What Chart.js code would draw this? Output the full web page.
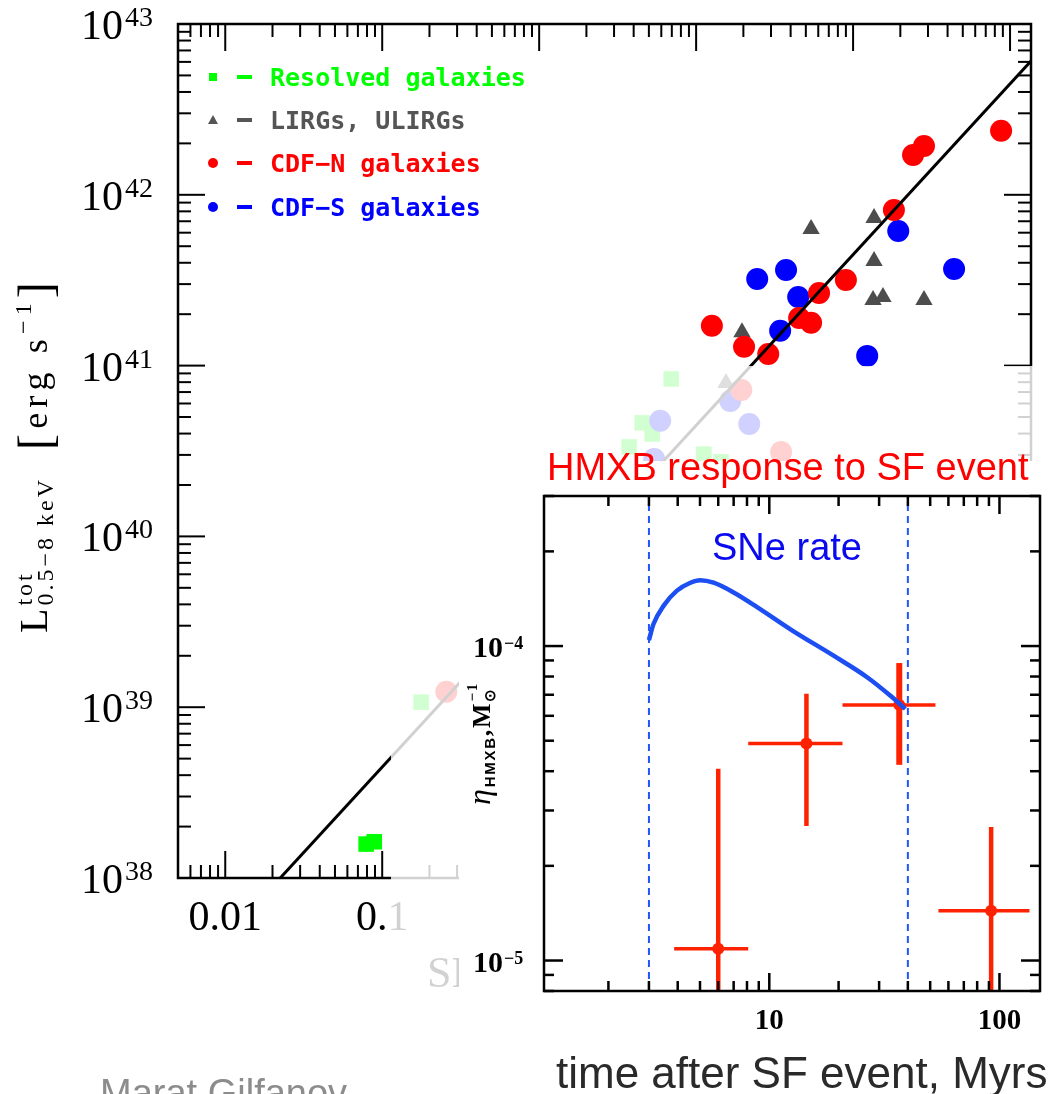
<!DOCTYPE html>
<html>
<head>
<meta charset="utf-8">
<title>HMXB - SFR</title>
<script src="https://cdn.jsdelivr.net/npm/chart.js@4.4.1/dist/chart.umd.min.js"></script>
<style>
  html, body { margin: 0; padding: 0; background: #fff; }
  #page { position: relative; width: 1050px; height: 1094px; overflow: hidden; background: #fff; }
  #mainChart { position: absolute; left: 0; top: 0; }
  #fade { position: absolute; left: 391px; top: 366px; width: 659px; height: 728px; background: rgba(255,255,255,0.82); }
  #panel { position: absolute; left: 459px; top: 461px; width: 591px; height: 633px; background: #fff; }
  #insetChart { position: absolute; left: 459px; top: 440px; }
</style>
</head>
<body>
<div id="page">
  <canvas id="mainChart" width="1050" height="1094"></canvas>
  <div id="fade"></div>
  <div id="panel"></div>
  <canvas id="insetChart" width="591" height="654"></canvas>
</div>
<script>
// main panel: total X-ray luminosity vs SFR
const resolvedSfr = [6.93, 4.53, 5.25, 3.74, 11.2, 14.4, 0.177, 0.079, 0.089];
const resolvedLx = [8.35e40, 4.62e40, 3.98e40, 3.34e40, 3.03e40, 2.73e40, 1.07e39, 1.58e38, 1.63e38];
const lirgSfr = [136, 54, 136, 134, 155, 283, 19.6, 15.5];
const lirgLx = [7.31e41, 6.3e41, 4.1e41, 2.42e41, 2.52e41, 2.42e41, 1.57e41, 7.9e40];
const cdfnSfr = [877, 241, 283, 182, 90, 60.7, 45.3, 54, 12.6, 20.2, 28.8, 19.4, 34.8, 0.256];
const cdfnLx = [2.37e42, 1.71e42, 1.93e42, 8.15e41, 3.17e41, 2.66e41, 1.90e41, 1.78e41, 1.71e41, 1.29e41, 1.17e41, 7.2e40, 3.12e40, 1.23e39];
const cdfsSfr = [194, 440, 37.4, 24.5, 44.7, 34.3, 123, 16.5, 5.9, 21.8, 5.4];
const cdfsLx = [6.14e41, 3.68e41, 3.63e41, 3.21e41, 2.52e41, 1.60e41, 1.14e41, 6.2e40, 4.75e40, 4.55e40, 2.84e40];
const fitSfr = [0.0224, 1360];
const fitLx = [1.0e38, 6.08e42];

const mainXTicks = [0.01, 0.1, 1, 10, 100, 1000];
const mainXTickLabels = ['0.01', '0.1', '1', '10', '100', '1000'];
const mainYTickExps = ['38', '39', '40', '41', '42', '43'];

// inset: HMXB response to SF event
const sneTime = [3.0, 3.14, 3.47, 3.97, 4.54, 5.01, 5.73, 7.0, 8.85, 12.6, 19.1, 26.6, 33.6, 39.0];
const sneRate = [1.045e-4, 1.175e-4, 1.342e-4, 1.50e-4, 1.59e-4, 1.62e-4, 1.59e-4, 1.48e-4, 1.33e-4, 1.12e-4, 9.3e-5, 7.96e-5, 6.95e-5, 6.31e-5];
const snWindow = [3, 40];
const hmxbTime = [6.0, 14.5, 36.7, 92];
const hmxbEta = [1.09e-5, 4.9e-5, 6.5e-5, 1.44e-5];
const hmxbTimeLo = [3.86, 8.1, 20.8, 54.3];
const hmxbTimeHi = [8.1, 20.8, 52.7, 135];
const hmxbEtaLo = [5e-6, 2.68e-5, 4.19e-5, 5e-6];
const hmxbEtaHi = [4.07e-5, 7.05e-5, 8.83e-5, 2.66e-5];

const insetXTicks = [10, 100];
const insetXTickLabels = ['10', '100'];
const insetYTicks = [1e-4, 1e-5];
const insetYTickExps = ['\u22124', '\u22125'];

const SERIF = '"Liberation Serif", serif';
const SANS = '"Liberation Sans", Arial, sans-serif';
const MONO = '"DejaVu Sans Mono", monospace';

function pts(xs, ys) {
  return xs.map((x, i) => ({ x: x, y: ys[i] }));
}

function line(ctx, x1, y1, x2, y2) {
  ctx.beginPath();
  ctx.moveTo(x1, y1);
  ctx.lineTo(x2, y2);
  ctx.stroke();
}

// inward ticks on both sides of a log axis
function logTicks(ctx, scale, a, horizontal, majLen, minLen) {
  const lo = Math.floor(Math.log10(scale.min));
  const hi = Math.ceil(Math.log10(scale.max));
  for (let e = lo; e <= hi; e++) {
    for (let m = 1; m <= 9; m++) {
      const v = m * Math.pow(10, e);
      if (v < scale.min * 0.999 || v > scale.max * 1.001) continue;
      const p = scale.getPixelForValue(v);
      const len = m === 1 ? majLen : minLen;
      if (horizontal) {
        line(ctx, p, a.bottom, p, a.bottom - len);
        line(ctx, p, a.top, p, a.top + len);
      } else {
        line(ctx, a.left, p, a.left + len, p);
        line(ctx, a.right, p, a.right - len, p);
      }
    }
  }
}

// text made of parts (sup/sub), drawn char by char with extra spacing ls
function richText(ctx, parts, draw, ls) {
  let start = 0, end = 0;
  parts.forEach(p => {
    ctx.font = p.f;
    const x0 = p.stack ? start : end;
    let x = x0;
    for (const ch of p.t) {
      if (draw) ctx.fillText(ch, x, p.dy || 0);
      x += ctx.measureText(ch).width + ls;
    }
    start = x0;
    end = p.stack ? Math.max(end, x) : x;
  });
  return end;
}

// rotated (reading upward) rich text, spaced out to span y0 -> y1
function verticalText(ctx, parts, x, y0, y1) {
  ctx.save();
  ctx.textAlign = 'left';
  ctx.textBaseline = 'alphabetic';
  const len0 = richText(ctx, parts, false, 0);
  const len1 = richText(ctx, parts, false, 1);
  const ls = (y0 - y1 - len0) / (len1 - len0);
  ctx.translate(x, y0);
  ctx.rotate(-Math.PI / 2);
  richText(ctx, parts, true, ls);
  ctx.restore();
}

const mainDecor = {
  id: 'mainDecor',
  afterDraw(chart) {
    const ctx = chart.ctx, a = chart.chartArea;
    const xs = chart.scales.x, ys = chart.scales.y;
    ctx.save();
    ctx.strokeStyle = '#000';
    ctx.fillStyle = '#000';
    ctx.lineWidth = 2.5;
    ctx.strokeRect(a.left, a.top, a.right - a.left, a.bottom - a.top);
    ctx.lineWidth = 2;
    logTicks(ctx, xs, a, true, 27, 13);
    logTicks(ctx, ys, a, false, 27, 13);

    ctx.textBaseline = 'alphabetic';
    mainYTickExps.forEach(e => {
      const y = ys.getPixelForValue(Math.pow(10, +e));
      ctx.textAlign = 'right';
      ctx.font = '28px ' + SERIF;
      ctx.fillText(e, 153, y + 2);
      const w = ctx.measureText(e).width;
      ctx.font = '42px ' + SERIF;
      ctx.fillText('10', 153 - w - 2, y + 15);
    });

    ctx.textAlign = 'center';
    ctx.font = '42px ' + SERIF;
    mainXTicks.forEach((v, i) => {
      ctx.fillText(mainXTickLabels[i], xs.getPixelForValue(v), 930);
    });

    ctx.textAlign = 'left';
    ctx.font = '44px ' + SERIF;
    ctx.fillText('SFR  [M\u2299 yr\u207B\u00B9]', 427, 987);

    // y title: L^tot_(0.5-8 keV) [erg s^-1]
    verticalText(ctx, [
      { t: 'L', f: '40px ' + SERIF },
      { t: 'tot', f: '24px ' + SERIF, dy: -15 },
      { t: '0.5\u22128 keV', f: '24px ' + SERIF, dy: 6, stack: true }
    ], 47, 633, 477);
    verticalText(ctx, [
      { t: '[', f: '48px ' + SERIF, dy: 4 },
      { t: 'erg s', f: '36px ' + SERIF },
      { t: '\u22121', f: '24px ' + SERIF, dy: -16 },
      { t: ']', f: '48px ' + SERIF, dy: 4 }
    ], 47, 450, 277);

    // legend
    const rows = [
      { y: 77, c: '#00ff00', m: 'rect', t: 'Resolved galaxies' },
      { y: 120, c: '#555555', m: 'tri', t: 'LIRGs, ULIRGs' },
      { y: 163, c: '#ff0000', m: 'dot', t: 'CDF\u2212N galaxies' },
      { y: 207, c: '#0000ff', m: 'dot', t: 'CDF\u2212S galaxies' }
    ];
    rows.forEach(r => {
      ctx.fillStyle = r.c;
      if (r.m === 'rect') {
        ctx.fillRect(209, r.y - 4, 8, 8);
      } else if (r.m === 'tri') {
        ctx.beginPath();
        ctx.moveTo(213, r.y - 5);
        ctx.lineTo(218, r.y + 4);
        ctx.lineTo(208, r.y + 4);
        ctx.closePath();
        ctx.fill();
      } else {
        ctx.beginPath();
        ctx.arc(213, r.y, 5, 0, Math.PI * 2);
        ctx.fill();
      }
      ctx.fillRect(237, r.y - 2, 15, 4);
      ctx.font = 'bold 25px ' + MONO;
      ctx.textAlign = 'left';
      ctx.fillText(r.t, 270, r.y + 9);
    });

    ctx.fillStyle = '#8c8c8c';
    ctx.font = '38px ' + SANS;
    ctx.fillText('Marat Gilfanov', 100, 1106);
    ctx.restore();
  }
};

new Chart(document.getElementById('mainChart'), {
  type: 'scatter',
  data: {
    datasets: [
      {
        label: 'fit', data: pts(fitSfr, fitLx), showLine: true, order: 0,
        borderColor: '#000', borderWidth: 3, pointRadius: 0, fill: false
      },
      {
        label: 'CDF-N galaxies', data: pts(cdfnSfr, cdfnLx), order: 1,
        pointStyle: 'circle', pointRadius: 11, backgroundColor: '#ff0000', borderWidth: 0
      },
      {
        label: 'CDF-S galaxies', data: pts(cdfsSfr, cdfsLx), order: 2,
        pointStyle: 'circle', pointRadius: 11, backgroundColor: '#0000ff', borderWidth: 0
      },
      {
        label: 'LIRGs, ULIRGs', data: pts(lirgSfr, lirgLx), order: 3,
        pointStyle: 'triangle', pointRadius: 10, backgroundColor: '#4d4d4d', borderWidth: 0
      },
      {
        label: 'Resolved galaxies', data: pts(resolvedSfr, resolvedLx), order: 4,
        pointStyle: 'rect', pointRadius: 11, backgroundColor: '#00ff00', borderWidth: 0
      }
    ]
  },
  options: {
    responsive: false,
    animation: false,
    events: [],
    layout: { padding: { left: 178, top: 24, right: 19, bottom: 216 }, autoPadding: false },
    plugins: { legend: { display: false }, tooltip: { enabled: false } },
    scales: {
      x: { type: 'logarithmic', min: 0.005, max: 1360, display: false },
      y: { type: 'logarithmic', min: 1e38, max: 1e43, display: false }
    }
  },
  plugins: [mainDecor]
});

const OX = 459, OY = 440;

const insetDecor = {
  id: 'insetDecor',
  beforeDatasetsDraw(chart) {
    const ctx = chart.ctx, a = chart.chartArea;
    const xs = chart.scales.x, ys = chart.scales.y;
    ctx.save();
    ctx.beginPath();
    ctx.rect(a.left, a.top, a.right - a.left, a.bottom - a.top);
    ctx.clip();
    ctx.strokeStyle = '#ff2200';
    hmxbTime.forEach((t, i) => {
      const px = xs.getPixelForValue(t), py = ys.getPixelForValue(hmxbEta[i]);
      ctx.lineWidth = 3.5;
      line(ctx, xs.getPixelForValue(hmxbTimeLo[i]), py, xs.getPixelForValue(hmxbTimeHi[i]), py);
      ctx.lineWidth = i === 2 ? 6 : 4.5;
      line(ctx, px, ys.getPixelForValue(hmxbEtaLo[i]), px, ys.getPixelForValue(hmxbEtaHi[i]));
    });
    ctx.restore();
  },
  afterDraw(chart) {
    const ctx = chart.ctx, a = chart.chartArea;
    const xs = chart.scales.x, ys = chart.scales.y;
    ctx.save();
    ctx.strokeStyle = '#000';
    ctx.lineWidth = 2.5;
    ctx.strokeRect(a.left, a.top, a.right - a.left, a.bottom - a.top);
    logTicks(ctx, xs, a, true, 18, 10);
    logTicks(ctx, ys, a, false, 19, 10);

    ctx.translate(-OX, -OY);
    ctx.fillStyle = '#000';
    ctx.textBaseline = 'alphabetic';
    insetYTicks.forEach((v, i) => {
      const y = ys.getPixelForValue(v) + OY;
      ctx.textAlign = 'left';
      ctx.font = 'bold 18px ' + SERIF;
      ctx.fillText(insetYTickExps[i], 504, y + 3);
      ctx.textAlign = 'right';
      ctx.font = 'bold 30px ' + SERIF;
      ctx.fillText('10', 503, y + 11);
    });
    ctx.textAlign = 'center';
    ctx.font = 'bold 29px ' + SERIF;
    insetXTicks.forEach((v, i) => {
      ctx.fillText(insetXTickLabels[i], xs.getPixelForValue(v) + OX, 1029);
    });

    verticalText(ctx, [
      { t: '\u03B7', f: 'italic 32px ' + SERIF },
      { t: 'HMXB', f: 'bold 15px ' + SANS, dy: 5 },
      { t: ',M', f: 'bold 26px ' + SERIF },
      { t: '\u2299', f: 'bold 15px ' + SERIF, dy: 5 },
      { t: '\u22121', f: 'bold 15px ' + SERIF, dy: -13, stack: true }
    ], 490, 805, 682);

    ctx.textAlign = 'left';
    ctx.fillStyle = '#ff0000';
    ctx.font = '38px ' + SANS;
    ctx.fillText('HMXB response to SF event', 547, 480);
    ctx.textAlign = 'center';
    ctx.fillStyle = '#0a0aee';
    ctx.fillText('SNe rate', 787, 560);
    ctx.textAlign = 'left';
    ctx.fillStyle = '#2a2a2a';
    ctx.font = '44px ' + SANS;
    ctx.fillText('time after SF event, Myrs', 556, 1088);
    ctx.restore();
  }
};

const snWindowSets = snWindow.map(t => ({
  label: 'window', data: pts([t, t], [8e-6, 3e-4]), showLine: true, order: 0,
  borderColor: '#1f55ff', borderWidth: 2, borderDash: [7, 5], pointRadius: 0, fill: false
}));

new Chart(document.getElementById('insetChart'), {
  type: 'scatter',
  data: {
    datasets: [
      {
        label: 'SNe rate', data: pts(sneTime, sneRate), showLine: true, order: 1,
        borderColor: '#1c4ef2', borderWidth: 4.5, pointRadius: 0, fill: false,
        cubicInterpolationMode: 'monotone'
      },
      ...snWindowSets,
      {
        label: 'HMXB', data: pts(hmxbTime, hmxbEta), order: 2,
        pointStyle: 'circle', pointRadius: 6, backgroundColor: '#ff2200', borderWidth: 0
      }
    ]
  },
  options: {
    responsive: false,
    animation: false,
    events: [],
    layout: { padding: { left: 85, top: 56, right: 10, bottom: 103 }, autoPadding: false },
    plugins: { legend: { display: false }, tooltip: { enabled: false } },
    scales: {
      x: { type: 'logarithmic', min: 1.05, max: 150, display: false },
      y: { type: 'logarithmic', min: 8e-6, max: 3e-4, display: false }
    }
  },
  plugins: [insetDecor]
});
</script>
</body>
</html>
